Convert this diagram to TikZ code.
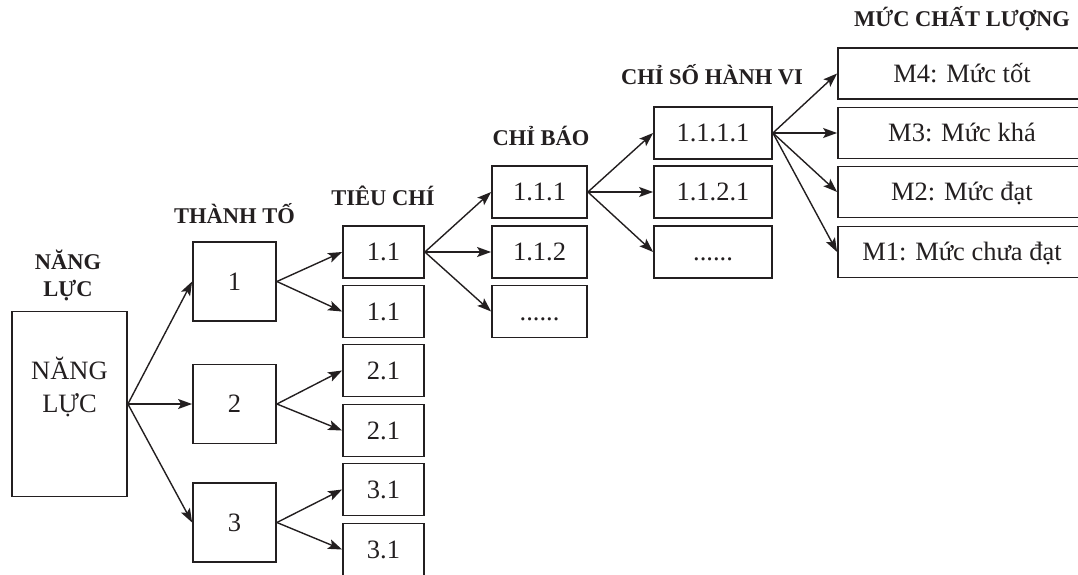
\documentclass[tikz,border=0pt]{standalone}
\usepackage{fontspec}
\setmainfont{Liberation Serif}
\usetikzlibrary{arrows.meta}
\definecolor{ink}{HTML}{231F20}
\begin{document}
\begin{tikzpicture}[x=1pt,y=-1pt, color=ink,
  box/.style={draw, line width=1.8pt, inner sep=0pt,
    font=\fontsize{26.5}{33}\selectfont, text height=17.8pt, text depth=0pt},
  tt/.style={box, minimum width=83pt, minimum height=79pt},
  tc/.style={box, minimum width=81pt, minimum height=52pt},
  cb/.style={box, minimum width=95pt, minimum height=52pt},
  cs/.style={box, minimum width=118pt, minimum height=52pt},
  mc/.style={box, minimum width=248pt, minimum height=51pt},
  arr/.style={line width=1.4pt, -{Stealth[length=14pt,width=10pt,inset=3pt]}},
  ttl/.style={font=\fontsize{22.5}{27}\selectfont\bfseries, inner sep=0pt}]
\useasboundingbox (0,0) rectangle (1078,575);

% titles
\node[ttl, align=center] (tNL) at (68,275) {NĂNG\\LỰC};
\node[ttl, anchor=base] (tTT) at (234.5,223) {THÀNH TỐ};
\node[ttl, anchor=base] (tTC) at (383,205) {TIÊU CHÍ};
\node[ttl, anchor=base] (tCB) at (541,145) {CHỈ BÁO};
\node[ttl, anchor=base] (tCS) at (712,85) {CHỈ SỐ HÀNH VI};
\node[ttl, anchor=base] (tMC) at (962,27) {MỨC CHẤT LƯỢNG};

% năng lực
\node[box, minimum width=115pt, minimum height=185pt] (nl) at (69.5,404) {};
\node[font=\fontsize{26.5}{33}\selectfont, align=center, inner sep=0pt] (nltxt) at (69.5,386.5) {NĂNG\\LỰC};

% thành tố
\node[tt] (t1) at (234.5,281.5) {1};
\node[tt] (t2) at (234.5,404) {2};
\node[tt] (t3) at (234.5,522.5) {3};

% tiêu chí
\node[tc] (c11a) at (383.5,252) {1.1};
\node[tc] (c11b) at (383.5,311.5) {1.1};
\node[tc] (c21a) at (383.5,370.5) {2.1};
\node[tc] (c21b) at (383.5,430.5) {2.1};
\node[tc] (c31a) at (383.5,489.5) {3.1};
\node[tc] (c31b) at (383.5,549.5) {3.1};

% chỉ báo
\node[cb] (b111) at (539.5,192) {1.1.1};
\node[cb] (b112) at (539.5,252) {1.1.2};
\node[cb] (bdot) at (539.5,311.5) {......};

% chỉ số hành vi
\node[cs] (s1111) at (713,133) {1.1.1.1};
\node[cs] (s1121) at (713,192) {1.1.2.1};
\node[cs] (sdot) at (713,252) {......};

% mức chất lượng
\node[mc] (m4) at (962,73.5) {M4: Mức tốt};
\node[mc] (m3) at (962,133) {M3: Mức khá};
\node[mc] (m2) at (962,192) {M2: Mức đạt};
\node[mc] (m1) at (962,252) {M1: Mức chưa đạt};

% arrows
\draw[arr] (nl.east) -- (t1.west);
\draw[arr] (nl.east) -- (t2.west);
\draw[arr] (nl.east) -- (t3.west);

\draw[arr] (t1.east) -- (c11a.west);
\draw[arr] (t1.east) -- (c11b.west);
\draw[arr] (t2.east) -- (c21a.west);
\draw[arr] (t2.east) -- (c21b.west);
\draw[arr] (t3.east) -- (c31a.west);
\draw[arr] (t3.east) -- (c31b.west);

\draw[arr] (c11a.east) -- (b111.west);
\draw[arr] (c11a.east) -- (b112.west);
\draw[arr] (c11a.east) -- (bdot.west);

\draw[arr] (b111.east) -- (s1111.west);
\draw[arr] (b111.east) -- (s1121.west);
\draw[arr] (b111.east) -- (sdot.west);

\draw[arr] (s1111.east) -- (m4.west);
\draw[arr] (s1111.east) -- (m3.west);
\draw[arr] (s1111.east) -- (m2.west);
\draw[arr] (s1111.east) -- (m1.west);
\end{tikzpicture}
\end{document}
